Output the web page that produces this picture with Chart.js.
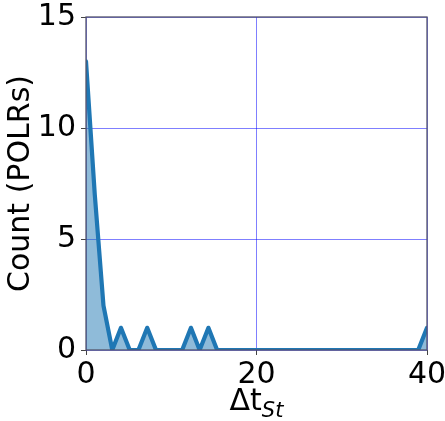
<!DOCTYPE html>
<html>
<head>
<meta charset="utf-8">
<script src="https://cdn.jsdelivr.net/npm/chart.js@4/dist/chart.umd.min.js"></script>
<style>
  html, body { margin: 0; padding: 0; background: #fff; }
  #wrap { width: 445px; height: 421px; }
</style>
</head>
<body>
<div id="wrap"><canvas id="c" width="445" height="421"></canvas></div>
<script>
// Bin positions along Δt_St (40 evenly spaced bins from 0 to 40)
const binPositions = [
  0.00, 1.03, 2.05, 3.08, 4.10, 5.13, 6.15, 7.18, 8.21, 9.23,
  10.26, 11.28, 12.31, 13.33, 14.36, 15.38, 16.41, 17.44, 18.46, 19.49,
  20.51, 21.54, 22.56, 23.59, 24.62, 25.64, 26.67, 27.69, 28.72, 29.74,
  30.77, 31.79, 32.82, 33.85, 34.87, 35.90, 36.92, 37.95, 38.97, 40.00
];
// POLR counts per bin
const polrCounts = [
  13, 7, 2, 0, 1, 0, 0, 1, 0, 0,
  0, 0, 1, 0, 1, 0, 0, 0, 0, 0,
  0, 0, 0, 0, 0, 0, 0, 0, 0, 0,
  0, 0, 0, 0, 0, 0, 0, 0, 0, 1
];
const xTicks = [0, 20, 40];
const yTicks = [0, 5, 10, 15];

const FONT = "'DejaVu Sans', sans-serif";
const points = binPositions.map((x, i) => ({ x: x, y: polrCounts[i] }));

// Frame around the plotting area
const frame = {
  id: 'frame',
  afterDatasetsDraw(chart) {
    const a = chart.chartArea, ctx = chart.ctx;
    ctx.save();
    ctx.strokeStyle = '#55556a';
    ctx.lineWidth = 1.3;
    ctx.strokeRect(a.left, a.top, a.right - a.left, a.bottom - a.top);
    ctx.restore();
  }
};

// x-axis title with a subscript: Δt_St
const xTitle = {
  id: 'xTitle',
  afterDraw(chart) {
    const a = chart.chartArea, ctx = chart.ctx;
    ctx.save();
    ctx.fillStyle = '#000';
    ctx.textBaseline = 'alphabetic';
    const mainFont = "30px " + FONT, subFont = "italic 21px " + FONT;
    ctx.font = mainFont; const w1 = ctx.measureText('Δt').width;
    ctx.font = subFont; const w2 = ctx.measureText('St').width;
    const x0 = (a.left + a.right) / 2 - (w1 + w2) / 2;
    ctx.font = mainFont; ctx.fillText('Δt', x0, 410);
    ctx.font = subFont; ctx.fillText('St', x0 + w1, 417);
    ctx.restore();
  }
};

new Chart(document.getElementById('c'), {
  type: 'line',
  data: {
    datasets: [{
      data: points,
      borderColor: '#1f77b4',
      backgroundColor: 'rgba(31,119,180,0.5)',
      borderWidth: 4.2,
      borderJoinStyle: 'round',
      borderCapStyle: 'round',
      fill: 'origin',
      pointRadius: 0,
      tension: 0,
      clip: 0
    }]
  },
  options: {
    responsive: false,
    animation: false,
    layout: { padding: { top: 17, right: 18, left: 0, bottom: 0 } },
    plugins: { legend: { display: false }, tooltip: { enabled: false } },
    scales: {
      x: {
        type: 'linear', min: 0, max: 40,
        afterBuildTicks(s) { s.ticks = xTicks.map(v => ({ value: v })); },
        afterFit(s) { s.height = 71; s.paddingLeft = 0; s.paddingRight = 0; },
        grid: { color: 'rgba(0,0,255,0.5)', lineWidth: 1, tickColor: '#444', tickLength: 5 },
        border: { display: false },
        ticks: { color: '#000', font: { family: FONT, size: 30 }, padding: 2, maxRotation: 0 }
      },
      y: {
        min: 0, max: 15,
        afterBuildTicks(s) { s.ticks = yTicks.map(v => ({ value: v })); },
        afterFit(s) { s.width = 86; s.paddingTop = 0; s.paddingBottom = 0; },
        grid: { color: 'rgba(0,0,255,0.5)', lineWidth: 1, tickColor: '#444', tickLength: 5 },
        border: { display: false },
        title: { display: true, text: 'Count (POLRs)', color: '#000', font: { family: FONT, size: 30 }, padding: { top: 3, bottom: 0 } },
        ticks: { color: '#000', font: { family: FONT, size: 30 }, padding: 5 }
      }
    }
  },
  plugins: [frame, xTitle]
});
</script>
</body>
</html>
